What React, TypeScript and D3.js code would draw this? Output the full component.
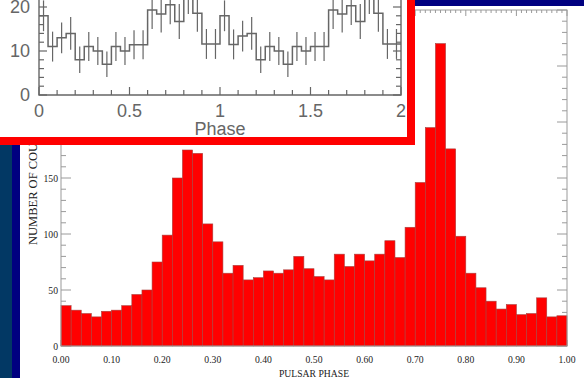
import { useEffect, useRef } from 'react';
import * as d3 from 'd3';

// main histogram: counts in 50 phase bins of width 0.02
const pulsarCounts = [
  36, 32, 29, 26, 31, 32, 36, 46, 50, 75,
  99, 150, 175, 172, 109, 93, 65, 72, 59, 61,
  67, 65, 68, 80, 69, 62, 59, 82, 71, 82,
  76, 82, 94, 79, 106, 146, 195, 270, 176, 98,
  65, 52, 40, 33, 37, 28, 29, 43, 26, 27,
];
const xTickLabels = ['0.00', '0.10', '0.20', '0.30', '0.40', '0.50', '0.60', '0.70', '0.80', '0.90', '1.00'];
const yTickValues = [0, 50, 100, 150, 200, 250, 300];

// inset light curve: 40 bins of 0.05 over two cycles, with error bars
const insetCounts = [
  18, 11, 13, 14, 8, 11, 10, 7, 11, 10, 11.4, 11.4, 19.3, 18.4, 20.5, 16.7, 23, 18.6, 11.6, 11.6,
  18, 11.5, 13.4, 14, 8, 11, 10, 7, 11, 10, 11, 11, 19.3, 18.4, 20.3, 16.7, 23, 18.6, 11.6, 11.6,
];
const insetErrors = [
  3.5, 3.4, 3.5, 3.7, 3.0, 3.3, 3.2, 2.9, 3.3, 3.2, 3.3, 3.3, 4.3, 4.2, 4.4, 4.0, 4.6, 4.2, 3.4, 3.4,
  3.5, 3.4, 3.5, 3.7, 3.0, 3.3, 3.2, 2.9, 3.3, 3.2, 3.3, 3.3, 4.3, 4.2, 4.4, 4.0, 4.6, 4.2, 3.4, 3.4,
];
const insetXTicks = ['0', '0.5', '1', '1.5', '2'];
const insetYTicks = [0, 10, 20];

export default function App() {
  const svgRef = useRef<SVGSVGElement>(null);

  useEffect(() => {
    const svg = d3.select(svgRef.current);
    svg.selectAll('*').remove();

    const W = 584, H = 378;
    svg.attr('width', W).attr('height', H).attr('viewBox', `0 0 ${W} ${H}`);

    // backdrop: navy frame, white page
    svg.append('rect').attr('width', W).attr('height', H).attr('fill', '#000080');
    svg.append('rect').attr('x', 0).attr('width', 12).attr('height', H).attr('fill', '#023864');
    svg.append('rect').attr('x', 20).attr('y', 6).attr('width', W - 20).attr('height', H - 6).attr('fill', '#fff');

    // ---- main histogram
    const x = d3.scaleLinear().domain([0, 1]).range([61, 567]);
    const y = d3.scaleLinear().domain([0, 300]).range([346, 10]);
    const binW = 1 / pulsarCounts.length;
    const axisCol = '#9a9a9a';
    const g = svg.append('g');

    // minor / major ticks on all four sides
    d3.range(0, 101).forEach(k => {
      const v = k / 100;
      const major = k % 10 === 0;
      const len = major ? 6 : 3;
      g.append('line').attr('x1', x(v)).attr('x2', x(v)).attr('y1', y(300)).attr('y2', y(300) + len)
        .attr('stroke', axisCol);
      g.append('line').attr('x1', x(v)).attr('x2', x(v)).attr('y1', y(0)).attr('y2', y(0) - len)
        .attr('stroke', axisCol);
    });
    d3.range(0, 301, 10).forEach(v => {
      const len = v % 50 === 0 ? 10 : 5;
      g.append('line').attr('x1', x(0)).attr('x2', x(0) + len).attr('y1', y(v)).attr('y2', y(v))
        .attr('stroke', axisCol);
      g.append('line').attr('x1', x(1)).attr('x2', x(1) - len).attr('y1', y(v)).attr('y2', y(v))
        .attr('stroke', axisCol);
    });

    // bars
    g.selectAll('rect.bar')
      .data(pulsarCounts)
      .enter().append('rect')
      .attr('class', 'bar')
      .attr('x', (_, i) => x(i * binW))
      .attr('y', d => y(d))
      .attr('width', x(binW) - x(0))
      .attr('height', d => y(0) - y(d))
      .attr('fill', '#ff0000')
      .attr('stroke', '#a8423f')
      .attr('stroke-width', 0.6);

    // frame
    g.append('rect').attr('x', x(0)).attr('y', y(300)).attr('width', x(1) - x(0)).attr('height', y(0) - y(300))
      .attr('fill', 'none').attr('stroke', axisCol);

    const serif = "'Liberation Serif', 'Times New Roman', serif";
    xTickLabels.forEach((t, i) => {
      g.append('text')
        .attr('transform', `translate(${x(i / 10)},363) scale(0.88,1)`)
        .attr('text-anchor', 'middle').attr('font-size', 11).attr('font-family', serif).attr('fill', '#222')
        .text(t);
    });
    yTickValues.forEach(v => {
      g.append('text')
        .attr('transform', `translate(58,${y(v) + 4}) scale(0.88,1)`)
        .attr('text-anchor', 'end').attr('font-size', 11).attr('font-family', serif).attr('fill', '#222')
        .text(v);
    });
    g.append('text')
      .attr('transform', `translate(314,377) scale(0.88,1)`)
      .attr('text-anchor', 'middle').attr('font-size', 11).attr('font-family', serif).attr('fill', '#222')
      .text('PULSAR PHASE');
    g.append('text')
      .attr('transform', `translate(37,245) rotate(-90)`)
      .attr('font-size', 12.5).attr('font-family', serif).attr('fill', '#222')
      .text('NUMBER OF COUNTS');

    // ---- inset light curve
    const ig = svg.append('g');
    ig.append('rect').attr('x', -10).attr('y', -10).attr('width', 421).attr('height', 151)
      .attr('fill', '#fff').attr('stroke', '#ff0000').attr('stroke-width', 8);

    const ix = d3.scaleLinear().domain([0, 2]).range([39, 401]);
    const iy = d3.scaleLinear().domain([0, 30]).range([95, -37]);
    const ibin = 2 / insetCounts.length;
    const inkCol = '#666';

    // axes
    ig.append('path')
      .attr('d', `M${ix(0)},${iy(30)}V${iy(0)}H${ix(2)}V${iy(30)}`)
      .attr('fill', 'none').attr('stroke', inkCol).attr('stroke-width', 1.4);
    d3.range(0, 21).forEach(k => {
      const len = k % 5 === 0 ? 8 : 5;
      ig.append('line').attr('x1', ix(k / 10)).attr('x2', ix(k / 10)).attr('y1', iy(0)).attr('y2', iy(0) - len)
        .attr('stroke', inkCol).attr('stroke-width', 1.2);
    });
    d3.range(0, 31, 2).forEach(v => {
      const len = v % 10 === 0 ? 8 : 5;
      ig.append('line').attr('x1', ix(0)).attr('x2', ix(0) + len).attr('y1', iy(v)).attr('y2', iy(v))
        .attr('stroke', inkCol).attr('stroke-width', 1.2);
      ig.append('line').attr('x1', ix(2)).attr('x2', ix(2) - len).attr('y1', iy(v)).attr('y2', iy(v))
        .attr('stroke', inkCol).attr('stroke-width', 1.2);
    });

    // error bars
    insetCounts.forEach((c, i) => {
      const cx = ix((i + 0.5) * ibin);
      ig.append('line').attr('x1', cx).attr('x2', cx)
        .attr('y1', iy(c - insetErrors[i])).attr('y2', iy(c + insetErrors[i]))
        .attr('stroke', inkCol).attr('stroke-width', 1.2);
    });

    // step histogram
    const pts: [number, number][] = insetCounts.map((c, i) => [i * ibin, c]);
    pts.push([2, insetCounts[insetCounts.length - 1]]);
    const step = d3.line<[number, number]>()
      .x(d => ix(d[0]))
      .y(d => iy(d[1]))
      .curve(d3.curveStepAfter);
    ig.append('path').datum(pts).attr('d', step)
      .attr('fill', 'none').attr('stroke', inkCol).attr('stroke-width', 1.5);

    const sans = "'Liberation Sans', Arial, sans-serif";
    insetXTicks.forEach((t, i) => {
      ig.append('text').attr('x', ix(i * 0.5)).attr('y', 117)
        .attr('text-anchor', 'middle').attr('font-size', 18).attr('font-family', sans).attr('fill', '#666')
        .text(t);
    });
    insetYTicks.forEach(v => {
      ig.append('text').attr('x', 30).attr('y', iy(v) + 6)
        .attr('text-anchor', 'end').attr('font-size', 18).attr('font-family', sans).attr('fill', '#666')
        .text(v);
    });
    ig.append('text').attr('x', ix(1)).attr('y', 135)
      .attr('text-anchor', 'middle').attr('font-size', 18).attr('font-family', sans).attr('fill', '#666')
      .text('Phase');
  }, []);

  return <svg ref={svgRef} style={{ position: 'absolute', left: 0, top: 0, display: 'block' }} />;
}
